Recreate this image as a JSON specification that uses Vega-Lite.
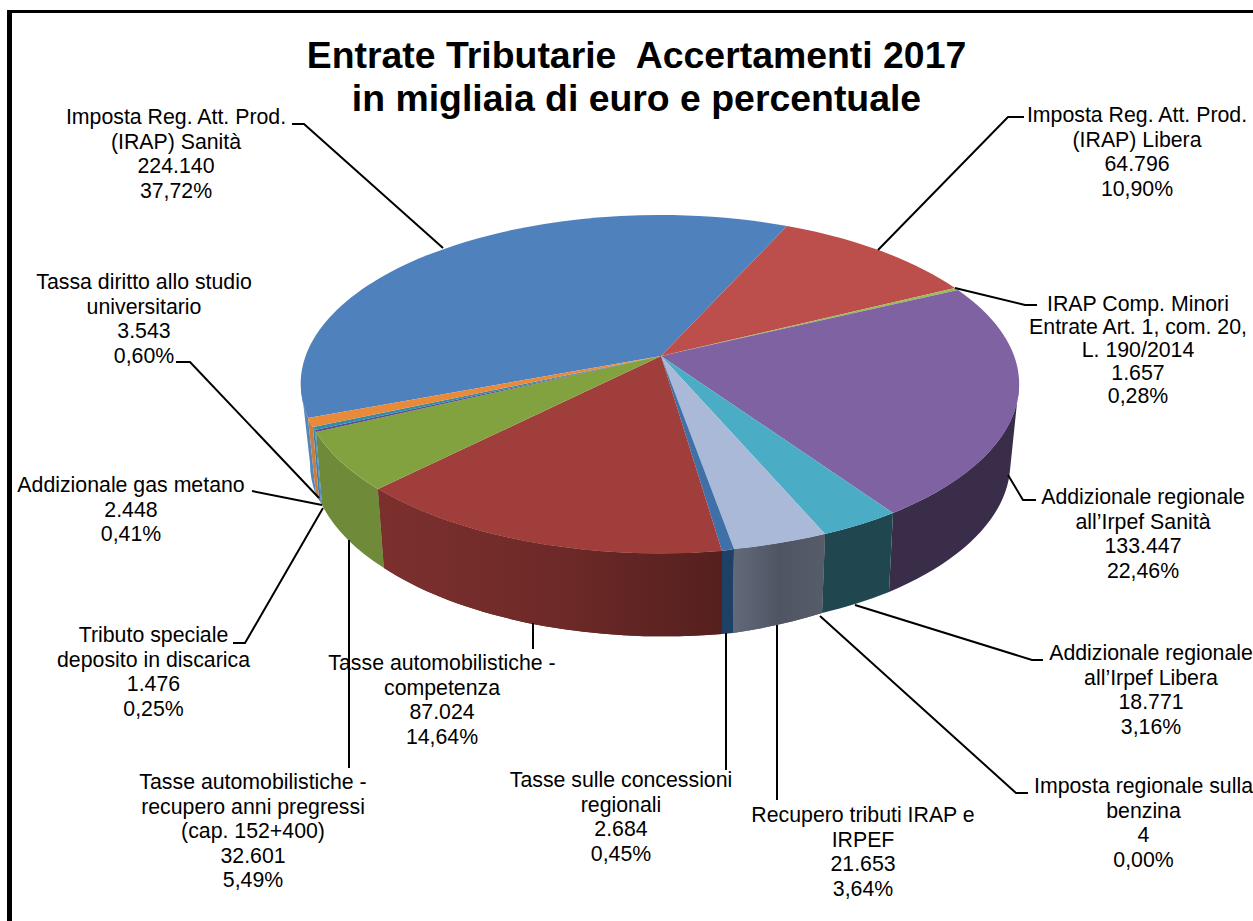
{
"$schema":"https://vega.github.io/schema/vega-lite/v6.json",
"width":1253,"height":921,"padding":0,"autosize":"none","background":"white",
"config":{"view":{"stroke":null},"font":"Liberation Sans"},
"title":{"text":["Entrate Tributarie\u00a0 Accertamenti 2017","in migliaia di euro e percentuale"],"anchor":"middle","dx":10,"offset":-118,"fontSize":37.4,"font":"Liberation Sans","fontWeight":"bold","lineHeight":43,"color":"black"},
"datasets":{
"slices":[
{"name":"Imposta Reg. Att. Prod. (IRAP) Sanità","value":224140,"pct":37.72,"label":"Imposta Reg. Att. Prod.\n(IRAP) Sanità\n224.140\n37,72%","lx":176,"ly":118},
{"name":"Imposta Reg. Att. Prod. (IRAP) Libera","value":64796,"pct":10.90,"label":"Imposta Reg. Att. Prod.\n(IRAP) Libera\n64.796\n10,90%","lx":1137,"ly":116},
{"name":"IRAP Comp. Minori Entrate","value":1657,"pct":0.28,"label":"IRAP Comp. Minori\nEntrate Art. 1, com. 20,\nL. 190/2014\n1.657\n0,28%","lx":1138,"ly":305},
{"name":"Addizionale regionale all'Irpef Sanità","value":133447,"pct":22.46,"label":"Addizionale regionale\nall’Irpef Sanità\n133.447\n22,46%","lx":1143,"ly":498},
{"name":"Addizionale regionale all'Irpef Libera","value":18771,"pct":3.16,"label":"Addizionale regionale\nall’Irpef Libera\n18.771\n3,16%","lx":1151,"ly":654},
{"name":"Imposta regionale sulla benzina","value":4,"pct":0.00,"label":"Imposta regionale sulla\nbenzina\n4\n0,00%","lx":1143.5,"ly":787},
{"name":"Recupero tributi IRAP e IRPEF","value":21653,"pct":3.64,"label":"Recupero tributi IRAP e\nIRPEF\n21.653\n3,64%","lx":863,"ly":816},
{"name":"Tasse sulle concessioni regionali","value":2684,"pct":0.45,"label":"Tasse sulle concessioni\nregionali\n2.684\n0,45%","lx":621,"ly":781},
{"name":"Tasse automobilistiche - competenza","value":87024,"pct":14.64,"label":"Tasse automobilistiche -\ncompetenza\n87.024\n14,64%","lx":442,"ly":664},
{"name":"Tasse automobilistiche - recupero anni pregressi","value":32601,"pct":5.49,"label":"Tasse automobilistiche -\nrecupero anni pregressi\n(cap. 152+400)\n32.601\n5,49%","lx":253,"ly":783},
{"name":"Tributo speciale deposito in discarica","value":1476,"pct":0.25,"label":"Tributo speciale\ndeposito in discarica\n1.476\n0,25%","lx":153.5,"ly":636},
{"name":"Addizionale gas metano","value":2448,"pct":0.41,"label":"Addizionale gas metano\n2.448\n0,41%","lx":131,"ly":486},
{"name":"Tassa diritto allo studio universitario","value":3543,"pct":0.60,"label":"Tassa diritto allo studio\nuniversitario\n3.543\n0,60%","lx":144,"ly":283}
],
"leaders":[
{"k":"a","i":0,"x":292,"y":124},{"k":"a","i":1,"x":304,"y":124},{"k":"a","i":2,"x":443,"y":248},
{"k":"b","i":0,"x":878,"y":250},{"k":"b","i":1,"x":1008,"y":117},{"k":"b","i":2,"x":1024,"y":117},
{"k":"c","i":0,"x":955,"y":288},{"k":"c","i":1,"x":1025,"y":305},{"k":"c","i":2,"x":1037,"y":305},
{"k":"d","i":0,"x":1008,"y":475},{"k":"d","i":1,"x":1023,"y":500},{"k":"d","i":2,"x":1036,"y":500},
{"k":"e","i":0,"x":855,"y":605},{"k":"e","i":1,"x":1032,"y":660},{"k":"e","i":2,"x":1043,"y":660},
{"k":"f","i":0,"x":820,"y":616},{"k":"f","i":1,"x":1016,"y":793},{"k":"f","i":2,"x":1028,"y":793},
{"k":"g","i":0,"x":777,"y":625},{"k":"g","i":1,"x":777,"y":800},
{"k":"h","i":0,"x":726,"y":633},{"k":"h","i":1,"x":726,"y":770},
{"k":"i","i":0,"x":533,"y":623},{"k":"i","i":1,"x":533,"y":649},
{"k":"j","i":0,"x":349,"y":540},{"k":"j","i":1,"x":349,"y":768},
{"k":"l","i":0,"x":323,"y":508},{"k":"l","i":1,"x":245,"y":643},{"k":"l","i":2,"x":233,"y":643},
{"k":"m","i":0,"x":322,"y":505},{"k":"m","i":1,"x":252,"y":491},
{"k":"n","i":0,"x":319,"y":498},{"k":"n","i":1,"x":190,"y":362},{"k":"n","i":2,"x":176,"y":362}
]
},
"resolve":{"scale":{"shape":"independent","color":"independent"}},
"layer":[
{"data":{"values":[{"side":"left"}]},"mark":{"type":"rule","color":"black","strokeWidth":5},
"encoding":{"x":{"datum":9.5,"type":"quantitative","scale":{"domain":[0,1253],"nice":false,"zero":false},"axis":null},"y":{"datum":10,"type":"quantitative","scale":{"domain":[0,921],"reverse":true,"nice":false,"zero":false},"axis":null},"y2":{"datum":921}}},
{"data":{"values":[{"side":"top"}]},"mark":{"type":"rule","color":"black","strokeWidth":3},
"encoding":{"y":{"datum":11.5,"type":"quantitative","scale":{"domain":[0,921],"reverse":true,"nice":false,"zero":false},"axis":null},"x":{"datum":7,"type":"quantitative","scale":{"domain":[0,1253],"nice":false,"zero":false},"axis":null},"x2":{"datum":1253}}},
{"data":{"name":"slices"},"mark":{"type":"point","filled":true,"opacity":1,"size":4,"strokeWidth":0},
"encoding":{
"x":{"datum":661,"type":"quantitative","scale":{"domain":[0,1253],"nice":false,"zero":false},"axis":null},
"y":{"datum":356,"type":"quantitative","scale":{"domain":[0,921],"reverse":true,"nice":false,"zero":false},"axis":null},
"shape":{"field":"name","type":"nominal","legend":null,"scale":{"domain":["Imposta Reg. Att. Prod. (IRAP) Sanità","Imposta Reg. Att. Prod. (IRAP) Libera","IRAP Comp. Minori Entrate","Addizionale regionale all'Irpef Sanità","Addizionale regionale all'Irpef Libera","Imposta regionale sulla benzina","Recupero tributi IRAP e IRPEF","Tasse sulle concessioni regionali","Tasse automobilistiche - competenza","Tasse automobilistiche - recupero anni pregressi","Tributo speciale deposito in discarica","Addizionale gas metano","Tassa diritto allo studio universitario"],
"range":["M-360,28A359,169 0 0 0 -353,62L-345,139A350,170 0 0 1 -351,107Z","M0,0","M0,0","M358,28A359,169 0 0 1 232,157L228,236A350,170 0 0 0 349,114Z","M232,157A359,169 0 0 1 164,178L161,257A350,170 0 0 0 228,236Z","M0,0","M164,178A359,169 0 0 1 73,193L72,277A350,170 0 0 0 161,257Z","M73,193A359,169 0 0 1 61,195L61,278A350,170 0 0 0 72,277Z","M61,195A359,169 0 0 1 -283,133L-277,212A350,170 0 0 0 61,278Z","M-283,133A359,169 0 0 1 -345,76L-339,149A350,170 0 0 0 -277,212Z","M-345,76A359,169 0 0 1 -346,74L-340,147A350,170 0 0 0 -339,149Z","M-346,74A359,169 0 0 1 -348,71L-342,144A350,170 0 0 0 -340,147Z","M-348,71A359,169 0 0 1 -353,62L-345,139A350,170 0 0 0 -342,144Z"]}},
"color":{"field":"name","type":"nominal","legend":null,"scale":{"domain":["Imposta Reg. Att. Prod. (IRAP) Sanità","Imposta Reg. Att. Prod. (IRAP) Libera","IRAP Comp. Minori Entrate","Addizionale regionale all'Irpef Sanità","Addizionale regionale all'Irpef Libera","Imposta regionale sulla benzina","Recupero tributi IRAP e IRPEF","Tasse sulle concessioni regionali","Tasse automobilistiche - competenza","Tasse automobilistiche - recupero anni pregressi","Tributo speciale deposito in discarica","Addizionale gas metano","Tassa diritto allo studio universitario"],
"range":["#5585bd","#7d3a38","#6f8a40","#392d49","#20474f","#a86a30","#565c6a","#1f4165","#6a2826","#6f8b3a","#3f7fb0","#3f7fb0","#c77f3c"]}}
}},
{"data":{"name":"slices"},"transform":[{"filter":"datum.name === 'Recupero tributi IRAP e IRPEF'"}],
"mark":{"type":"point","filled":true,"opacity":1,"size":4,"strokeWidth":0,"color":{"gradient":"linear","x1":0,"y1":0,"x2":1,"y2":0,"stops":[{"offset":0,"color":"#626a7a"},{"offset":0.5,"color":"#4f5563"},{"offset":1,"color":"#575c69"}]}},
"encoding":{
"x":{"datum":661,"type":"quantitative","scale":{"domain":[0,1253],"nice":false,"zero":false},"axis":null},
"y":{"datum":356,"type":"quantitative","scale":{"domain":[0,921],"reverse":true,"nice":false,"zero":false},"axis":null},
"shape":{"field":"name","type":"nominal","legend":null,"scale":{"domain":["Recupero tributi IRAP e IRPEF"],"range":["M164,178A359,169 0 0 1 73,193L72,277A350,170 0 0 0 161,257Z"]}}}},
{"data":{"name":"slices"},"transform":[{"filter":"datum.name === 'Tasse automobilistiche - competenza'"}],
"mark":{"type":"point","filled":true,"opacity":1,"size":4,"strokeWidth":0,"color":{"gradient":"linear","x1":0,"y1":0,"x2":1,"y2":0,"stops":[{"offset":0,"color":"#7c302e"},{"offset":0.5,"color":"#6e2a28"},{"offset":1,"color":"#55201e"}]}},
"encoding":{
"x":{"datum":661,"type":"quantitative","scale":{"domain":[0,1253],"nice":false,"zero":false},"axis":null},
"y":{"datum":356,"type":"quantitative","scale":{"domain":[0,921],"reverse":true,"nice":false,"zero":false},"axis":null},
"shape":{"field":"name","type":"nominal","legend":null,"scale":{"domain":["Tasse automobilistiche - competenza"],"range":["M61,195A359,169 0 0 1 -283,133L-277,212A350,170 0 0 0 61,278Z"]}}}},
{"data":{"name":"slices"},"mark":{"type":"point","filled":true,"opacity":1,"size":4,"strokeWidth":0},
"encoding":{
"x":{"datum":661,"type":"quantitative","scale":{"domain":[0,1253],"nice":false,"zero":false},"axis":null},
"y":{"datum":356,"type":"quantitative","scale":{"domain":[0,921],"reverse":true,"nice":false,"zero":false},"axis":null},
"shape":{"field":"name","type":"nominal","legend":null,"scale":{"domain":["Imposta Reg. Att. Prod. (IRAP) Sanità","Imposta Reg. Att. Prod. (IRAP) Libera","IRAP Comp. Minori Entrate","Addizionale regionale all'Irpef Sanità","Addizionale regionale all'Irpef Libera","Imposta regionale sulla benzina","Recupero tributi IRAP e IRPEF","Tasse sulle concessioni regionali","Tasse automobilistiche - competenza","Tasse automobilistiche - recupero anni pregressi","Tributo speciale deposito in discarica","Addizionale gas metano","Tassa diritto allo studio universitario"],
"range":["M0,0L-353,62A359,169 0 0 1 126,-130Z","M0,0L126,-130A359,169 0 0 1 294,-68Z","M0,0L294,-68A359,169 0 0 1 297,-66Z","M0,0L297,-66A359,169 0 0 1 232,157Z","M0,0L232,157A359,169 0 0 1 164,178Z","M0,0","M0,0L164,178A359,169 0 0 1 73,193Z","M0,0L73,193A359,169 0 0 1 61,195Z","M0,0L61,195A359,169 0 0 1 -283,133Z","M0,0L-283,133A359,169 0 0 1 -345,76Z","M0,0L-345,76A359,169 0 0 1 -346,74Z","M0,0L-346,74A359,169 0 0 1 -348,71Z","M0,0L-348,71A359,169 0 0 1 -353,62Z"]}},
"color":{"field":"name","type":"nominal","legend":null,"scale":{"domain":["Imposta Reg. Att. Prod. (IRAP) Sanità","Imposta Reg. Att. Prod. (IRAP) Libera","IRAP Comp. Minori Entrate","Addizionale regionale all'Irpef Sanità","Addizionale regionale all'Irpef Libera","Imposta regionale sulla benzina","Recupero tributi IRAP e IRPEF","Tasse sulle concessioni regionali","Tasse automobilistiche - competenza","Tasse automobilistiche - recupero anni pregressi","Tributo speciale deposito in discarica","Addizionale gas metano","Tassa diritto allo studio universitario"],
"range":["#4f81bd","#bc4f4b","#9bbb59","#7f62a1","#4bacc6","#f79646","#a9b9d7","#3f70a8","#a03e3c","#82a23f","#5f4b8b","#2f8fa8","#e88a3a"]}}
}},
{"data":{"name":"leaders"},"mark":{"type":"line","color":"black","strokeWidth":2,"interpolate":"linear"},
"encoding":{
"x":{"field":"x","type":"quantitative","scale":{"domain":[0,1253],"nice":false,"zero":false},"axis":null},
"y":{"field":"y","type":"quantitative","scale":{"domain":[0,921],"reverse":true,"nice":false,"zero":false},"axis":null},
"detail":{"field":"k"},"order":{"field":"i"}}},
{"data":{"name":"slices"},"transform":[{"filter":"datum.name !== 'IRAP Comp. Minori Entrate'"}],"mark":{"type":"text","font":"Liberation Sans","fontSize":21.3,"lineHeight":24.6,"lineBreak":"\n","align":"center","baseline":"middle","color":"black"},
"encoding":{
"x":{"field":"lx","type":"quantitative","scale":{"domain":[0,1253],"nice":false,"zero":false},"axis":null},
"y":{"field":"ly","type":"quantitative","scale":{"domain":[0,921],"reverse":true,"nice":false,"zero":false},"axis":null},
"text":{"field":"label"}}},
{"data":{"name":"slices"},"transform":[{"filter":"datum.name === 'IRAP Comp. Minori Entrate'"}],"mark":{"type":"text","font":"Liberation Sans","fontSize":21.3,"lineHeight":23,"lineBreak":"\n","align":"center","baseline":"middle","color":"black"},
"encoding":{
"x":{"field":"lx","type":"quantitative","scale":{"domain":[0,1253],"nice":false,"zero":false},"axis":null},
"y":{"field":"ly","type":"quantitative","scale":{"domain":[0,921],"reverse":true,"nice":false,"zero":false},"axis":null},
"text":{"field":"label"}}}
]
}
